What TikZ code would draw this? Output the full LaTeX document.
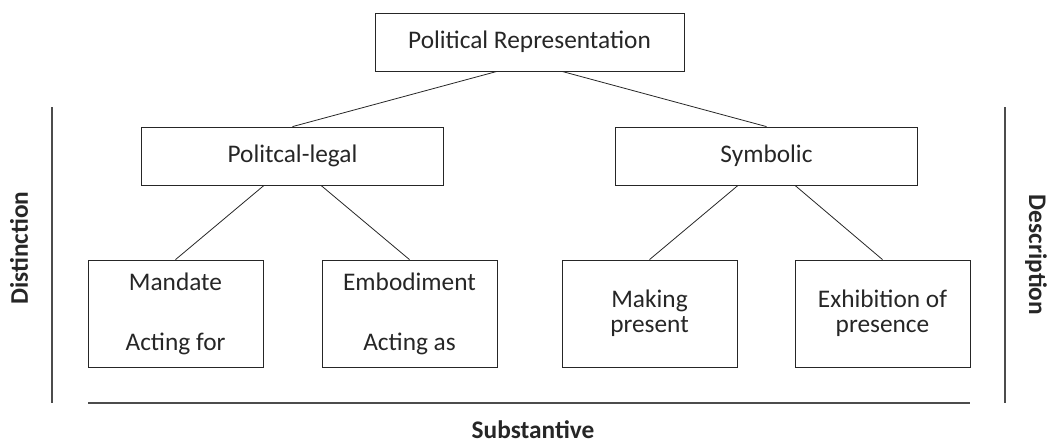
\documentclass[tikz,border=0pt]{standalone}
\usepackage{fontspec}
\setmainfont{Carlito}
\usetikzlibrary{calc}

\begin{document}
\begin{tikzpicture}[x=0.75pt, y=-0.75pt,
		topbox/.style={draw=black!85, line width=0.6pt, inner sep=0pt, minimum width=231.75pt, minimum height=43.5pt, font=\fontsize{19}{18.5}\selectfont, text=black!85},
		midbox/.style={topbox, minimum width=227pt},
		leafbox/.style={topbox, minimum width=131.25pt, minimum height=80.25pt, align=center},
		edge/.style={draw=black!85, line width=0.6pt},
		axis/.style={draw=black!70, line width=1pt},
		axislabel/.style={font=\fontsize{19}{18.5}\selectfont\bfseries, text=black!85}]
		%%%%% START %%%%%
		
		\useasboundingbox (0, 0) rectangle (1052, 444);
		
		\node[topbox] (pr) at (529.5, 42) {Political Representation};
		
		\node[midbox] (pl) at (292.5, 156) {Politcal-legal};
		\node[midbox] (sy) at (766.5, 156) {Symbolic};
		
		\node[leafbox] (ma) at (175.5, 313.5) {Mandate\\[26.5pt]Acting for};
		\node[leafbox] (em) at (409.5, 313.5) {Embodiment\\[26.5pt]Acting as};
		\node[leafbox] (mp) at (649.5, 313.5) {Making\\present};
		\node[leafbox] (ex) at (882.5, 313.5) {Exhibition of\\presence};
		
		\draw[edge] ($(pr.south)+(-32.5, 0)$) -- (pl.north);
		\draw[edge] ($(pr.south)+(32.5, 0)$) -- (sy.north);
		\draw[edge] ($(pl.south)+(-28.5, 0)$) -- (ma.north);
		\draw[edge] ($(pl.south)+(28.5, 0)$) -- (em.north);
		\draw[edge] ($(sy.south)+(-28.5, 0)$) -- (mp.north);
		\draw[edge] ($(sy.south)+(28.5, 0)$) -- (ex.north);
		
		\coordinate (dt) at (52, 107);
		\coordinate (db) at (52, 403);
		\coordinate (et) at (1005, 107);
		\coordinate (eb) at (1005, 403);
		\coordinate (sl) at (88, 403);
		\coordinate (sr) at (970, 403);
		\draw[axis] (dt) -- (db);
		\draw[axis] (et) -- (eb);
		\draw[axis, line width=1.2pt] (sl) -- (sr);
		
		\node[axislabel, rotate=90] (di) at (19, 248) {Distinction};
		\node[axislabel, rotate=-90] (de) at (1036, 255) {Description};
		\node[axislabel] (su) at (533, 430) {Substantive};
		
		%%%%% END %%%%%
	\end{tikzpicture}
\end{document}
